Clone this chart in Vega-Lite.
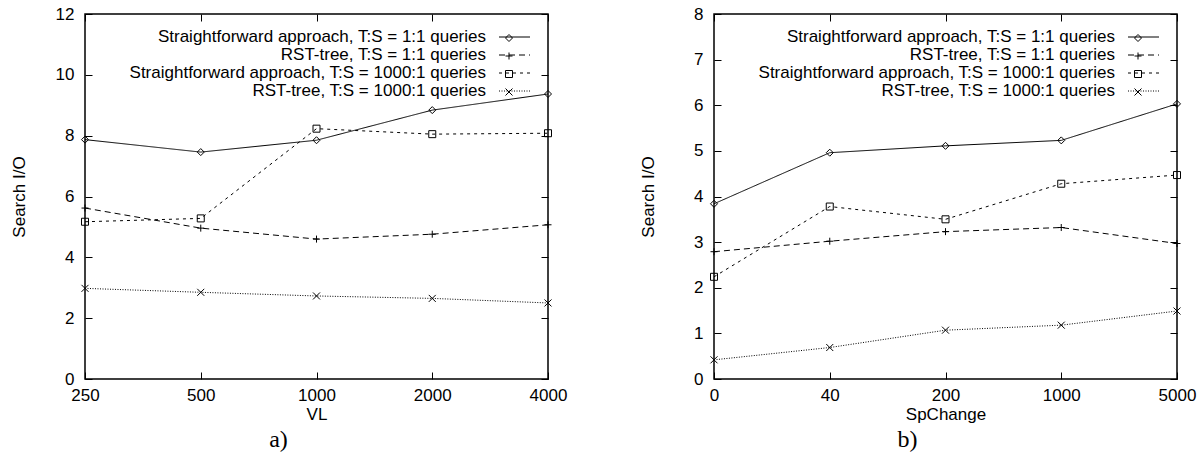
{
  "$schema": "https://vega.github.io/schema/vega-lite/v6.json",
  "datasets": {
    "vl": [
      {"VL": 250, "series": "Straightforward approach, T:S = 1:1 queries", "io": 7.87},
      {"VL": 500, "series": "Straightforward approach, T:S = 1:1 queries", "io": 7.46},
      {"VL": 1000, "series": "Straightforward approach, T:S = 1:1 queries", "io": 7.85},
      {"VL": 2000, "series": "Straightforward approach, T:S = 1:1 queries", "io": 8.84},
      {"VL": 4000, "series": "Straightforward approach, T:S = 1:1 queries", "io": 9.37},
      {"VL": 250, "series": "RST-tree, T:S = 1:1 queries", "io": 5.62},
      {"VL": 500, "series": "RST-tree, T:S = 1:1 queries", "io": 4.96},
      {"VL": 1000, "series": "RST-tree, T:S = 1:1 queries", "io": 4.6},
      {"VL": 2000, "series": "RST-tree, T:S = 1:1 queries", "io": 4.76},
      {"VL": 4000, "series": "RST-tree, T:S = 1:1 queries", "io": 5.07},
      {"VL": 250, "series": "Straightforward approach, T:S = 1000:1 queries", "io": 5.17},
      {"VL": 500, "series": "Straightforward approach, T:S = 1000:1 queries", "io": 5.28},
      {"VL": 1000, "series": "Straightforward approach, T:S = 1000:1 queries", "io": 8.23},
      {"VL": 2000, "series": "Straightforward approach, T:S = 1000:1 queries", "io": 8.05},
      {"VL": 4000, "series": "Straightforward approach, T:S = 1000:1 queries", "io": 8.08},
      {"VL": 250, "series": "RST-tree, T:S = 1000:1 queries", "io": 2.98},
      {"VL": 500, "series": "RST-tree, T:S = 1000:1 queries", "io": 2.85},
      {"VL": 1000, "series": "RST-tree, T:S = 1000:1 queries", "io": 2.73},
      {"VL": 2000, "series": "RST-tree, T:S = 1000:1 queries", "io": 2.65},
      {"VL": 4000, "series": "RST-tree, T:S = 1000:1 queries", "io": 2.5}
    ],
    "sp": [
      {"SpChange": 0, "series": "Straightforward approach, T:S = 1:1 queries", "io": 3.84},
      {"SpChange": 40, "series": "Straightforward approach, T:S = 1:1 queries", "io": 4.96},
      {"SpChange": 200, "series": "Straightforward approach, T:S = 1:1 queries", "io": 5.11},
      {"SpChange": 1000, "series": "Straightforward approach, T:S = 1:1 queries", "io": 5.23},
      {"SpChange": 5000, "series": "Straightforward approach, T:S = 1:1 queries", "io": 6.03},
      {"SpChange": 0, "series": "RST-tree, T:S = 1:1 queries", "io": 2.79},
      {"SpChange": 40, "series": "RST-tree, T:S = 1:1 queries", "io": 3.02},
      {"SpChange": 200, "series": "RST-tree, T:S = 1:1 queries", "io": 3.23},
      {"SpChange": 1000, "series": "RST-tree, T:S = 1:1 queries", "io": 3.32},
      {"SpChange": 5000, "series": "RST-tree, T:S = 1:1 queries", "io": 2.97},
      {"SpChange": 0, "series": "Straightforward approach, T:S = 1000:1 queries", "io": 2.24},
      {"SpChange": 40, "series": "Straightforward approach, T:S = 1000:1 queries", "io": 3.78},
      {"SpChange": 200, "series": "Straightforward approach, T:S = 1000:1 queries", "io": 3.5},
      {"SpChange": 1000, "series": "Straightforward approach, T:S = 1000:1 queries", "io": 4.28},
      {"SpChange": 5000, "series": "Straightforward approach, T:S = 1000:1 queries", "io": 4.47},
      {"SpChange": 0, "series": "RST-tree, T:S = 1000:1 queries", "io": 0.42},
      {"SpChange": 40, "series": "RST-tree, T:S = 1000:1 queries", "io": 0.69},
      {"SpChange": 200, "series": "RST-tree, T:S = 1000:1 queries", "io": 1.07},
      {"SpChange": 1000, "series": "RST-tree, T:S = 1000:1 queries", "io": 1.18},
      {"SpChange": 5000, "series": "RST-tree, T:S = 1000:1 queries", "io": 1.49}
    ]
  },
  "padding": {"left": 9, "top": 4, "right": 5, "bottom": 0},
  "spacing": 166,
  "bounds": "flush",
  "hconcat": [
    {
      "data": {"name": "vl"},
      "width": 463,
      "height": 365,
      "title": {"text": "a)", "orient": "bottom", "anchor": "middle", "dx": -38, "offset": 6, "font": "Liberation Serif", "fontSize": 24, "fontWeight": "normal", "color": "black", "baseline": "top"},
      "layer": [
        {
          "mark": {"type": "line", "color": "black", "strokeWidth": 1},
          "encoding": {
            "x": {"field": "VL", "type": "ordinal", "scale": {"type": "point", "domain": [250, 500, 1000, 2000, 4000], "padding": 0},
                  "axis": {"orient": "bottom", "labelAngle": 0, "labelPadding": 15, "title": "VL", "titleX": 231.5, "titleY": 40, "titleBaseline": "alphabetic", "titleAlign": "center"}},
            "y": {"field": "io", "type": "quantitative", "scale": {"domain": [0, 12], "nice": false},
                  "axis": {"orient": "left", "values": [0, 2, 4, 6, 8, 10, 12], "labelPadding": 18, "title": "Search I/O", "titleX": -66, "titleY": 182.5, "titleAngle": 270, "titleAlign": "center", "titleBaseline": "middle"}},
            "strokeDash": {"field": "series", "type": "nominal",
              "scale": {"domain": ["Straightforward approach, T:S = 1:1 queries", "RST-tree, T:S = 1:1 queries", "Straightforward approach, T:S = 1000:1 queries", "RST-tree, T:S = 1000:1 queries"], "range": [[1, 0], [6, 4], [3, 4], [1, 1.5]]},
              "legend": {"orient": "none", "legendX": 421, "legendY": 14.5, "title": null, "symbolType": "M-7.75,0L7.75,0", "symbolSize": 16, "symbolStrokeColor": "black", "symbolStrokeWidth": 1, "labelAlign": "right", "labelOffset": -37, "rowPadding": 0, "labelLimit": 0}}
          }
        },
        {
          "mark": {"type": "point", "filled": false, "color": "black", "strokeWidth": 1, "size": 49, "opacity": 1},
          "encoding": {
            "x": {"field": "VL", "type": "ordinal", "scale": {"type": "point", "domain": [250, 500, 1000, 2000, 4000], "padding": 0}, "axis": null},
            "y": {"field": "io", "type": "quantitative", "scale": {"domain": [0, 12], "nice": false}, "axis": null},
            "shape": {"field": "series", "type": "nominal",
              "scale": {"domain": ["Straightforward approach, T:S = 1:1 queries", "RST-tree, T:S = 1:1 queries", "Straightforward approach, T:S = 1000:1 queries", "RST-tree, T:S = 1000:1 queries"], "range": ["diamond", "M-1,0L1,0M0,-1L0,1", "square", "M-1,-1L1,1M-1,1L1,-1"]},
              "legend": {"orient": "none", "legendX": 420, "legendY": 15.45, "title": null, "symbolSize": 49, "symbolStrokeColor": "black", "symbolStrokeWidth": 1, "labelExpr": "''", "labelFontSize": 1, "clipHeight": 17.1}}
          }
        },
        {
          "mark": {"type": "point", "opacity": 0},
          "encoding": {
            "x": {"field": "VL", "type": "ordinal", "scale": {"type": "point", "domain": [250, 500, 1000, 2000, 4000], "padding": 0}, "axis": {"orient": "top", "labels": false, "title": null}},
            "y": {"field": "io", "type": "quantitative", "scale": {"domain": [0, 12], "nice": false}, "axis": {"orient": "right", "labels": false, "title": null, "values": [0, 2, 4, 6, 8, 10, 12]}}
          }
        }
      ],
      "resolve": {"axis": {"x": "independent", "y": "independent"}, "legend": {"shape": "independent", "strokeDash": "independent"}}
    },
    {
      "data": {"name": "sp"},
      "width": 463,
      "height": 365,
      "title": {"text": "b)", "orient": "bottom", "anchor": "middle", "dx": -38, "offset": 6, "font": "Liberation Serif", "fontSize": 24, "fontWeight": "normal", "color": "black", "baseline": "top"},
      "layer": [
        {
          "mark": {"type": "line", "color": "black", "strokeWidth": 1},
          "encoding": {
            "x": {"field": "SpChange", "type": "ordinal", "scale": {"type": "point", "domain": [0, 40, 200, 1000, 5000], "padding": 0},
                  "axis": {"orient": "bottom", "labelAngle": 0, "labelPadding": 15, "title": "SpChange", "titleX": 231.5, "titleY": 40, "titleBaseline": "alphabetic", "titleAlign": "center"}},
            "y": {"field": "io", "type": "quantitative", "scale": {"domain": [0, 8], "nice": false},
                  "axis": {"orient": "left", "values": [0, 1, 2, 3, 4, 5, 6, 7, 8], "labelPadding": 18, "title": "Search I/O", "titleX": -66, "titleY": 182.5, "titleAngle": 270, "titleAlign": "center", "titleBaseline": "middle"}},
            "strokeDash": {"field": "series", "type": "nominal",
              "scale": {"domain": ["Straightforward approach, T:S = 1:1 queries", "RST-tree, T:S = 1:1 queries", "Straightforward approach, T:S = 1000:1 queries", "RST-tree, T:S = 1000:1 queries"], "range": [[1, 0], [6, 4], [3, 4], [1, 1.5]]},
              "legend": {"orient": "none", "legendX": 421, "legendY": 14.5, "title": null, "symbolType": "M-7.75,0L7.75,0", "symbolSize": 16, "symbolStrokeColor": "black", "symbolStrokeWidth": 1, "labelAlign": "right", "labelOffset": -37, "rowPadding": 0, "labelLimit": 0}}
          }
        },
        {
          "mark": {"type": "point", "filled": false, "color": "black", "strokeWidth": 1, "size": 49, "opacity": 1},
          "encoding": {
            "x": {"field": "SpChange", "type": "ordinal", "scale": {"type": "point", "domain": [0, 40, 200, 1000, 5000], "padding": 0}, "axis": null},
            "y": {"field": "io", "type": "quantitative", "scale": {"domain": [0, 8], "nice": false}, "axis": null},
            "shape": {"field": "series", "type": "nominal",
              "scale": {"domain": ["Straightforward approach, T:S = 1:1 queries", "RST-tree, T:S = 1:1 queries", "Straightforward approach, T:S = 1000:1 queries", "RST-tree, T:S = 1000:1 queries"], "range": ["diamond", "M-1,0L1,0M0,-1L0,1", "square", "M-1,-1L1,1M-1,1L1,-1"]},
              "legend": {"orient": "none", "legendX": 420, "legendY": 15.45, "title": null, "symbolSize": 49, "symbolStrokeColor": "black", "symbolStrokeWidth": 1, "labelExpr": "''", "labelFontSize": 1, "clipHeight": 17.1}}
          }
        },
        {
          "mark": {"type": "point", "opacity": 0},
          "encoding": {
            "x": {"field": "SpChange", "type": "ordinal", "scale": {"type": "point", "domain": [0, 40, 200, 1000, 5000], "padding": 0}, "axis": {"orient": "top", "labels": false, "title": null}},
            "y": {"field": "io", "type": "quantitative", "scale": {"domain": [0, 8], "nice": false}, "axis": {"orient": "right", "labels": false, "title": null, "values": [0, 1, 2, 3, 4, 5, 6, 7, 8]}}
          }
        }
      ],
      "resolve": {"axis": {"x": "independent", "y": "independent"}, "legend": {"shape": "independent", "strokeDash": "independent"}}
    }
  ],
  "resolve": {"scale": {"shape": "independent", "strokeDash": "independent"}, "legend": {"shape": "independent", "strokeDash": "independent"}},
  "config": {
    "view": {"stroke": "black", "strokeWidth": 1.5},
    "axis": {"labelFont": "Liberation Sans", "labelFontSize": 17, "titleFont": "Liberation Sans", "titleFontSize": 17, "titleFontWeight": "normal", "labelColor": "black", "titleColor": "black", "tickColor": "black", "tickSize": -7, "tickWidth": 1, "domain": false, "grid": false},
    "legend": {"labelFont": "Liberation Sans", "labelFontSize": 17, "labelColor": "black", "padding": 0, "rowPadding": 0, "offset": 0, "labelLimit": 0}
  }
}
